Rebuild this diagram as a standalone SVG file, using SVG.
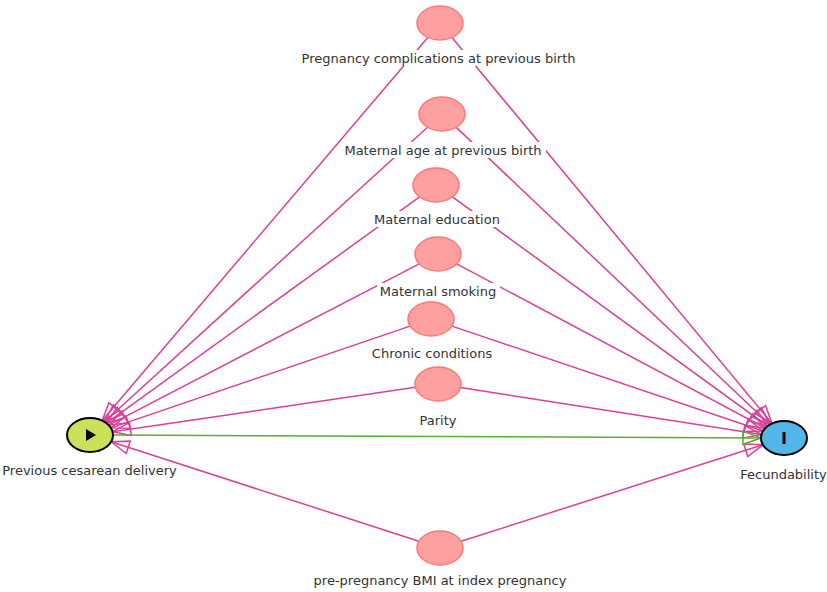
<svg xmlns="http://www.w3.org/2000/svg" width="827" height="592" viewBox="0 0 827 592">
<style>
.e{stroke:#d9409a;stroke-width:1.5;fill:none;marker-end:url(#ap)}
.g{stroke:#55b030;stroke-width:1.5;fill:none;marker-end:url(#ag)}
.c{fill:#ffa0a0;stroke:#ff7777;stroke-width:1.5}
.bg{fill:#fff}
.t{font-family:"DejaVu Sans",sans-serif;font-size:13px;fill:#333;text-anchor:middle;dominant-baseline:central}
</style>
<defs>
<marker id="ap" markerUnits="userSpaceOnUse" markerWidth="22" markerHeight="16" viewBox="0 0 22 16" refX="20" refY="8" orient="auto" overflow="visible"><path d="M2,1.5 L20,8 L2,14.5 Z" fill="none" stroke="#d9409a" stroke-width="1.5"/></marker>
<marker id="ag" markerUnits="userSpaceOnUse" markerWidth="22" markerHeight="16" viewBox="0 0 22 16" refX="20" refY="8" orient="auto" overflow="visible"><path d="M2,1.5 L20,8 L2,14.5 Z" fill="none" stroke="#55b030" stroke-width="1.5"/></marker>
</defs>
<rect width="827" height="592" fill="#fff"/>
<g id="edges">
<line class="e" x1="427.8" y1="37.4" x2="102.2" y2="420.6"/>
<line class="e" x1="452.0" y1="37.5" x2="772.0" y2="423.5"/>
<line class="e" x1="427.5" y1="127.2" x2="104.5" y2="421.8"/>
<line class="e" x1="456.2" y1="127.4" x2="769.9" y2="424.6"/>
<line class="e" x1="419.6" y1="196.9" x2="106.5" y2="423.1"/>
<line class="e" x1="452.4" y1="196.9" x2="767.6" y2="426.1"/>
<line class="e" x1="419.2" y1="263.8" x2="108.8" y2="425.2"/>
<line class="e" x1="456.7" y1="263.9" x2="765.3" y2="428.1"/>
<line class="e" x1="410.1" y1="326.1" x2="111.1" y2="427.9"/>
<line class="e" x1="451.9" y1="326.1" x2="763.1" y2="431.0"/>
<line class="e" x1="415.4" y1="387.3" x2="112.6" y2="431.7"/>
<line class="e" x1="460.5" y1="387.5" x2="761.5" y2="434.5"/>
<line class="e" x1="418.9" y1="541.2" x2="111.1" y2="441.8"/>
<line class="e" x1="461.1" y1="541.3" x2="762.9" y2="444.8"/>
<line class="g" x1="113" y1="435.1" x2="761" y2="437.9"/>
</g>
<g id="n_complications">
<ellipse class="c" cx="440" cy="23" rx="23" ry="17"/>
<rect class="bg" x="298" y="50" width="282" height="16"/>
<text class="t" x="438.5" y="58">Pregnancy complications at previous birth</text>
</g>
<g id="n_age">
<ellipse class="c" cx="442" cy="114" rx="23" ry="17"/>
<rect class="bg" x="341" y="142" width="205" height="16"/>
<text class="t" x="443" y="150">Maternal age at previous birth</text>
</g>
<g id="n_education">
<ellipse class="c" cx="436" cy="185" rx="23" ry="17"/>
<rect class="bg" x="371" y="211" width="132" height="16"/>
<text class="t" x="437" y="219">Maternal education</text>
</g>
<g id="n_smoking">
<ellipse class="c" cx="438" cy="254" rx="23" ry="17"/>
<rect class="bg" x="377" y="283" width="123" height="16"/>
<text class="t" x="438" y="291">Maternal smoking</text>
</g>
<g id="n_chronic">
<ellipse class="c" cx="431" cy="319" rx="23" ry="17"/>
<rect class="bg" x="367" y="345" width="129" height="16"/>
<text class="t" x="432" y="353">Chronic conditions</text>
</g>
<g id="n_parity">
<ellipse class="c" cx="438" cy="384" rx="23" ry="17"/>
<rect class="bg" x="417" y="412" width="42" height="16"/>
<text class="t" x="438" y="420">Parity</text>
</g>
<g id="n_bmi">
<ellipse class="c" cx="440" cy="548" rx="23" ry="17"/>
<rect class="bg" x="309" y="572" width="262" height="16"/>
<text class="t" x="440" y="580">pre-pregnancy BMI at index pregnancy</text>
</g>
<g id="n_exposure">
<ellipse cx="90" cy="435" rx="23" ry="17" fill="#cce05a" stroke="#000" stroke-width="2"/>
<path d="M86,429 L86,441 L96,435 Z" fill="#000"/>
<text class="t" x="89.5" y="470">Previous cesarean delivery</text>
</g>
<g id="n_outcome">
<ellipse cx="784" cy="438" rx="23" ry="17" fill="#52b6e8" stroke="#000" stroke-width="2"/>
<rect x="782.5" y="432" width="3" height="12" fill="#000"/>
<text class="t" x="783.5" y="474">Fecundability</text>
</g>
</svg>
